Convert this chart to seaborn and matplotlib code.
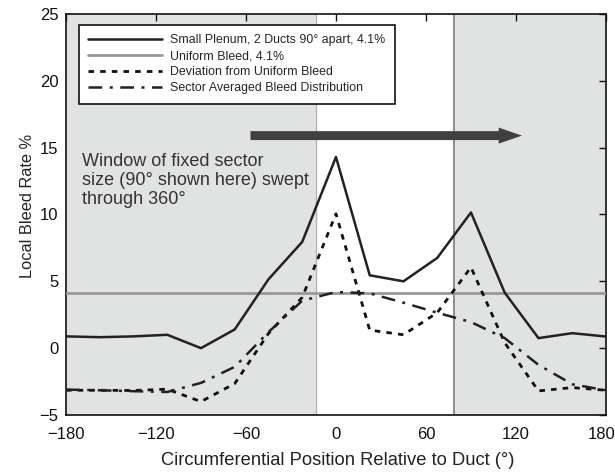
import numpy as np
import pandas as pd
import matplotlib
matplotlib.use("Agg")
import matplotlib.pyplot as plt
import matplotlib.transforms as mtransforms
import seaborn as sns

# ---- data ----
angles = [-180, -157.5, -135, -112.5, -90, -67.5, -45, -22.5, 0,
          22.5, 45, 67.5, 90, 112.5, 135, 157.5, 180]
plenum = [0.88, 0.82, 0.88, 1.0, 0.0, 1.4, 5.15, 7.95, 14.3,
          5.45, 5.0, 6.75, 10.15, 4.15, 0.75, 1.12, 0.87]
deviation = [-3.15, -3.15, -3.17, -3.07, -4.0, -2.65, 1.1, 3.8, 10.05,
             1.35, 1.0, 2.65, 6.05, 0.4, -3.2, -2.95, -3.15]
sector_avg = [-3.1, -3.15, -3.22, -3.28, -2.6, -1.4, 1.2, 3.55, 4.2,
              4.1, 3.4, 2.65, 1.95, 0.75, -1.25, -2.7, -3.15]
uniform = 4.1
window = [-13, 79]
arrow_x = [-57, 124]
arrow_y = 15.9

labels = ["Small Plenum, 2 Ducts 90\u00b0 apart, 4.1%",
          "Uniform Bleed, 4.1%",
          "Deviation from Uniform Bleed",
          "Sector Averaged Bleed Distribution"]
note = "Window of fixed sector\nsize (90\u00b0 shown here) swept\nthrough 360\u00b0"
xticks = [-180, -120, -60, 0, 60, 120, 180]
yticks = [-5, 0, 5, 10, 15, 20, 25]

sns.set_theme(style="white")
plt.rcParams['font.family'] = ['Liberation Sans', 'DejaVu Sans']
plt.rcParams['axes.unicode_minus'] = True

fig = plt.figure(figsize=(6.15, 4.72), dpi=100)
ax = fig.add_axes([0.1073, 0.1208, 0.878, 0.8496])

shade = "#e1e2e2"
ax.axvspan(-180, window[0], color=shade, zorder=0, lw=0)
ax.axvspan(window[1], 180, color=shade, zorder=0, lw=0)
ax.axvline(window[0], color="#b0b0b0", lw=0.9, zorder=1)
ax.axvline(window[1], color="#8c8c8c", lw=1.4, zorder=1)

df = pd.DataFrame({"angle": angles, "plenum": plenum,
                   "deviation": deviation, "sector": sector_avg})

sns.lineplot(data=df, x="angle", y="plenum", ax=ax, color="#222222",
             lw=1.8, label=labels[0], zorder=4)
ax.axhline(uniform, color="#999999", lw=2.0, label=labels[1], zorder=3)
l3 = sns.lineplot(data=df, x="angle", y="deviation", ax=ax, color="#111111",
                  lw=2.0, label=labels[2], zorder=4).get_lines()[-1]
l3.set_dashes([2.0, 2.2])
l4 = sns.lineplot(data=df, x="angle", y="sector", ax=ax, color="#222222",
                  lw=1.8, label=labels[3], zorder=4).get_lines()[-1]
l4.set_dashes([5.5, 3.0, 1.2, 3.0])

ax.arrow(arrow_x[0], arrow_y, arrow_x[1] - arrow_x[0], 0, width=0.67,
         head_width=1.2, head_length=15.5, length_includes_head=True,
         fc="#404040", ec="#404040", lw=0, zorder=5)

ax.text(-169, 14.6, note, fontsize=13, color="#333333", va="top", ha="left",
        linespacing=1.15, zorder=5)

ax.set_xlim(-180, 180)
ax.set_ylim(-5, 25)
ax.set_xticks(xticks)
ax.set_yticks(yticks)
ax.tick_params(direction="in", length=5, width=1, top=True, right=True,
               labelsize=12, colors="#111111")
ax.tick_params(axis="x", pad=9)
ax.tick_params(axis="y", pad=5.5)
shift = mtransforms.ScaledTranslation(-4 / 100, 0, fig.dpi_scale_trans)
last = ax.get_xticklabels()[-1]
last.set_transform(last.get_transform() + shift)
for s in ax.spines.values():
    s.set_color("#111111")
    s.set_linewidth(1.2)
ax.set_xlabel("Circumferential Position Relative to Duct (\u00b0)", fontsize=13.2,
              color="#222222", va="center")
ax.xaxis.set_label_coords(0.504, -0.114)
ax.set_ylabel("Local Bleed Rate %", fontsize=11.8, color="#222222", va="center")
ax.yaxis.set_label_coords(-0.072, 0.521)

leg = ax.legend(loc="upper left", bbox_to_anchor=(0.024, 0.973), fontsize=8.9,
                frameon=True, fancybox=False, handlelength=6.0, handletextpad=0.65,
                borderpad=0.75, labelspacing=0.33, borderaxespad=0)
leg.get_frame().set_edgecolor("#111111")
leg.get_frame().set_linewidth(1.2)
leg.get_frame().set_alpha(1)
leg.set_zorder(6)

fig.savefig("out.png", dpi=100)
